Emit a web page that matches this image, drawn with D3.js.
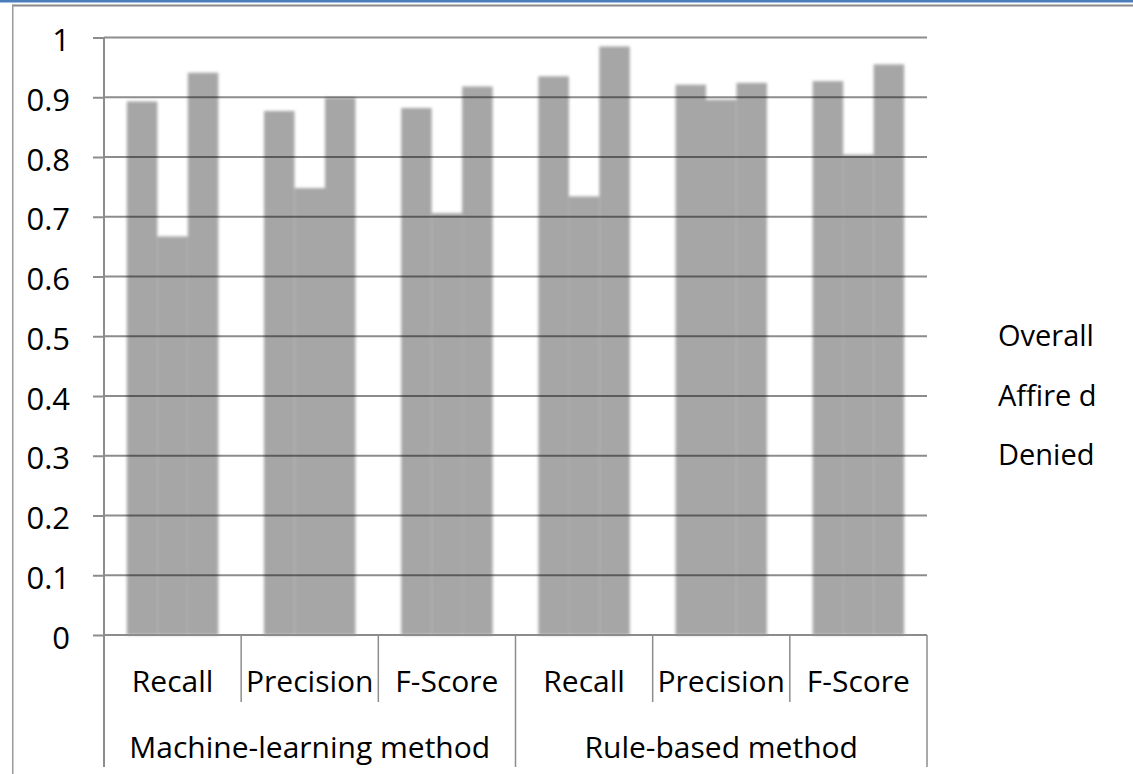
<!DOCTYPE html>
<html>
<head>
<meta charset="utf-8">
<script src="https://cdn.jsdelivr.net/npm/d3@7"></script>
<style>
  html, body { margin: 0; padding: 0; background: #fff; }
  svg { display: block; }
  text { font-family: "Open Sans", sans-serif; fill: #000; }
</style>
</head>
<body>
<svg id="chart" width="1133" height="774"></svg>
<script>
// Evaluation of the two methods: recall, precision and F-score per class
const groups = ["Machine-learning method", "Rule-based method"];
const metrics = ["Recall", "Precision", "F-Score"];
const seriesNames = ["Overall", "Affire d", "Denied"];
const overall  = [0.893, 0.877, 0.882, 0.935, 0.921, 0.927];
const affirmed = [0.667, 0.748, 0.706, 0.734, 0.896, 0.804];
const denied   = [0.941, 0.899, 0.918, 0.985, 0.924, 0.955];
const yTicks = [0, 0.1, 0.2, 0.3, 0.4, 0.5, 0.6, 0.7, 0.8, 0.9, 1];
const yTickLabels = ["0", "0.1", "0.2", "0.3", "0.4", "0.5", "0.6", "0.7", "0.8", "0.9", "1"];

const svg = d3.select("#chart");
const FONT = 30;
const plot = { left: 104, right: 927, top: 37.5, bottom: 635 };

// flat category list: one entry per (method, metric)
const cats = [];
groups.forEach((g, gi) => metrics.forEach((m, mi) => cats.push({ g, m, i: gi * metrics.length + mi })));
const seriesValues = [overall, affirmed, denied];

const x = d3.scaleBand()
  .domain(cats.map(c => c.i))
  .range([plot.left, plot.right])
  .paddingInner(1 / 3)
  .paddingOuter(1 / 6);
const xs = d3.scaleBand().domain(d3.range(seriesNames.length)).range([0, x.bandwidth()]);
const y = d3.scaleLinear().domain([0, 1]).range([plot.bottom, plot.top]);
const step = x.step();
const catLeft = i => plot.left + i * step;

// frame lines along the top and left edge
svg.append("rect").attr("x", 0).attr("y", 0).attr("width", 1133).attr("height", 2.5).attr("fill", "#4a7ebb");
svg.append("rect").attr("x", 12).attr("y", 4.5).attr("width", 1121).attr("height", 2).attr("fill", "#8a8a8a");
svg.append("rect").attr("x", 12).attr("y", 4.5).attr("width", 1.5).attr("height", 774).attr("fill", "#9a9a9a");

// soft-edged bars
const defs = svg.append("defs");
defs.append("filter").attr("id", "soft").attr("x", "-20%").attr("y", "-5%").attr("width", "140%").attr("height", "110%")
  .append("feGaussianBlur").attr("stdDeviation", 1.6);

const barLayer = svg.append("g").attr("filter", "url(#soft)");
seriesValues.forEach((vals, si) => {
  barLayer.selectAll(null)
    .data(cats)
    .join("rect")
    .attr("x", d => x(d.i) + xs(si))
    .attr("y", d => y(vals[d.i]))
    .attr("width", xs.bandwidth())
    .attr("height", d => y(0) - y(vals[d.i]))
    .attr("fill", "#a6a6a6");
});

// gridlines over the bars (translucent so they darken where they cross)
const yAxis = d3.axisLeft(y)
  .tickValues(yTicks)
  .tickFormat((d, i) => yTickLabels[i])
  .tickSize(11)
  .tickPadding(23);
const yg = svg.append("g").attr("transform", `translate(${plot.left},0)`).call(yAxis);
yg.select(".domain").remove();
yg.selectAll(".tick line").attr("stroke", "rgba(0,0,0,0.45)").attr("stroke-width", 2);
yg.selectAll(".tick text").attr("font-size", FONT + 1).attr("dy", "0.42em").attr("fill", "#000");

svg.append("g").selectAll("line")
  .data(yTicks.filter(t => t > 0))
  .join("line")
  .attr("x1", plot.left).attr("x2", plot.right)
  .attr("y1", d => y(d)).attr("y2", d => y(d))
  .attr("stroke", "rgba(0,0,0,0.45)").attr("stroke-width", 2);

// baseline and vertical axis
svg.append("line").attr("x1", plot.left).attr("x2", plot.right).attr("y1", y(0)).attr("y2", y(0))
  .attr("stroke", "#8c8c8c").attr("stroke-width", 2);
svg.append("line").attr("x1", plot.left).attr("x2", plot.left).attr("y1", plot.top).attr("y2", 767)
  .attr("stroke", "#8c8c8c").attr("stroke-width", 2);

// category separators: short between metrics, long between methods
const sepLevel1 = 702, sepLevel2 = 767;
d3.range(1, cats.length + 1).forEach(k => {
  const xx = catLeft(k);
  const major = k % metrics.length === 0;
  svg.append("line").attr("x1", xx).attr("x2", xx).attr("y1", y(0)).attr("y2", major ? sepLevel2 : sepLevel1)
    .attr("stroke", "#8c8c8c").attr("stroke-width", 1.5);
});

// metric labels
svg.append("g").selectAll("text")
  .data(cats)
  .join("text")
  .attr("x", d => catLeft(d.i) + step / 2)
  .attr("y", 692)
  .attr("text-anchor", "middle")
  .attr("font-size", FONT)
  .text(d => d.m);

// method labels
svg.append("g").selectAll("text")
  .data(groups)
  .join("text")
  .attr("x", (d, gi) => catLeft(gi * metrics.length) + step * metrics.length / 2)
  .attr("y", 758)
  .attr("text-anchor", "middle")
  .attr("font-size", FONT)
  .text(d => d);

// legend
svg.append("g").selectAll("text")
  .data(seriesNames)
  .join("text")
  .attr("x", 998)
  .attr("y", (d, i) => 346 + i * 59.5)
  .attr("font-size", FONT - 1)
  .text(d => d);
</script>
</body>
</html>
